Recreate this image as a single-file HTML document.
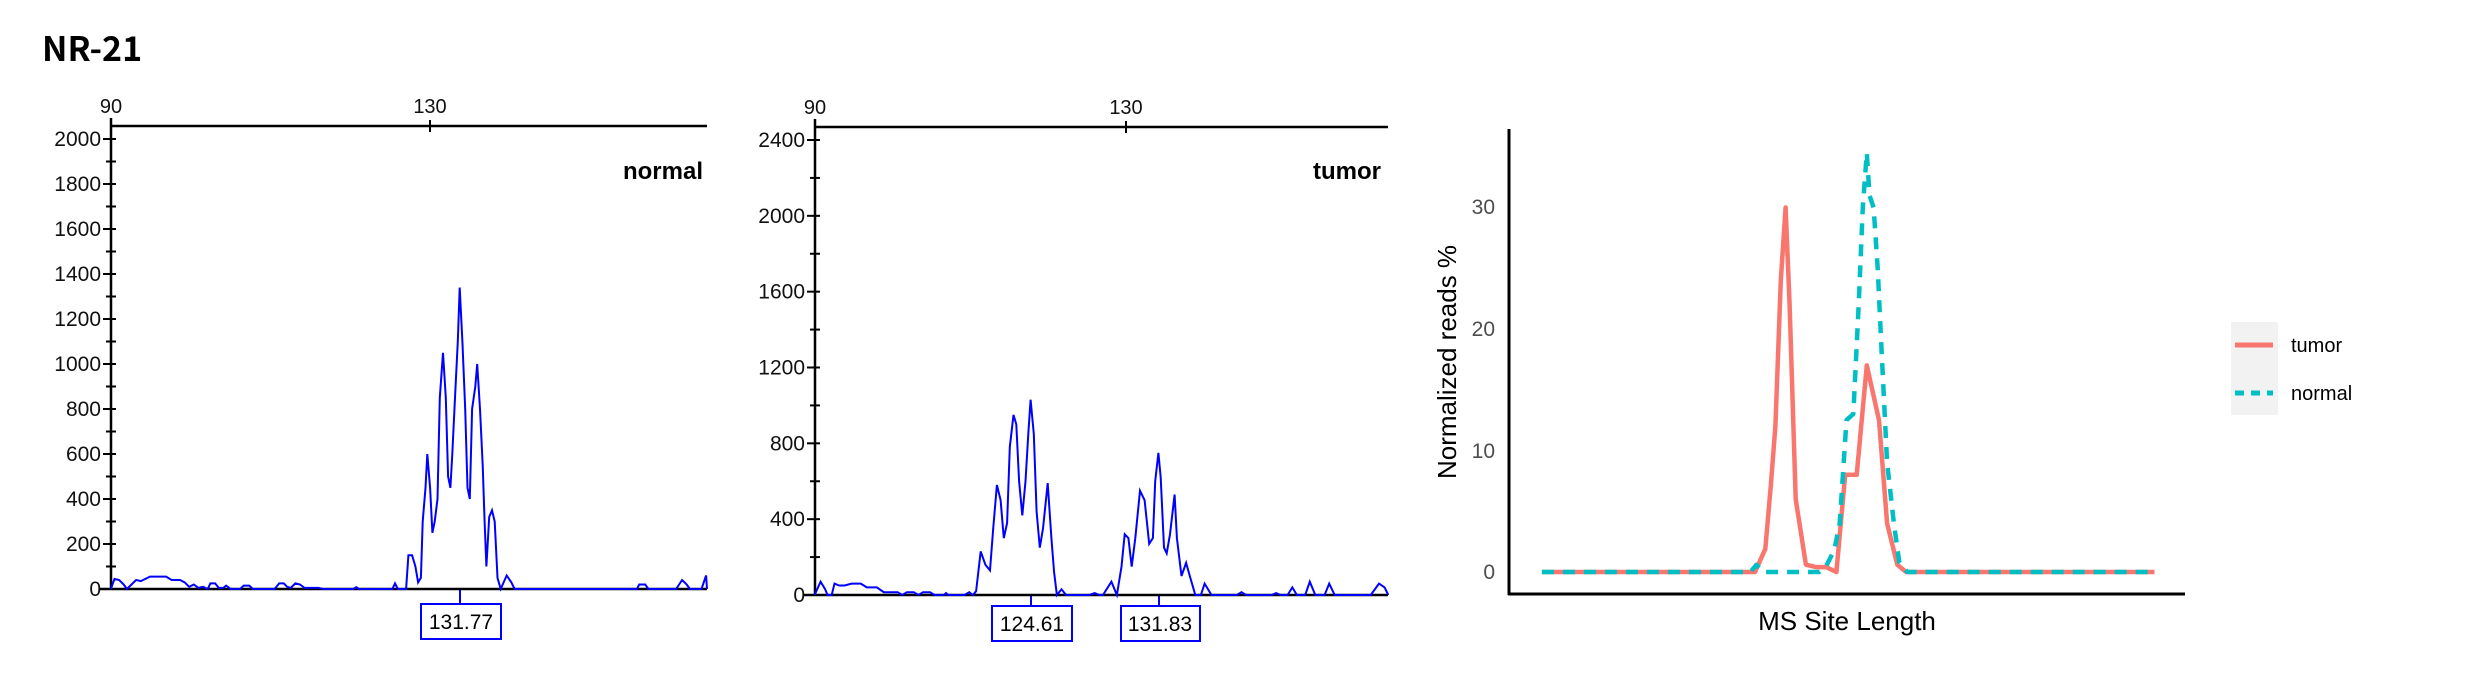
<!DOCTYPE html>
<html><head><meta charset="utf-8"><style>
html,body{margin:0;padding:0;background:#fff;}
svg{display:block;}
</style></head><body>
<svg id="s" width="2476" height="675" viewBox="0 0 2476 675" xmlns="http://www.w3.org/2000/svg">
<text x="42" y="61" font-family="Noto Sans CJK SC, Liberation Sans, sans-serif" font-weight="bold" font-size="34">NR-21</text>
<text x="703" y="179" text-anchor="end" font-family="Liberation Sans, sans-serif" font-weight="bold" font-size="24">normal</text>
<text x="1381" y="179" text-anchor="end" font-family="Liberation Sans, sans-serif" font-weight="bold" font-size="24">tumor</text>
<g stroke="#0000ff" stroke-width="2" fill="#fff">
<rect x="421" y="604" width="80" height="35"/>
<rect x="992" y="606" width="80" height="35"/>
<rect x="1121" y="606" width="79" height="35"/>
</g>
<g stroke="#0000ff" stroke-width="2">
<line x1="460" y1="590" x2="460" y2="604"/>
<line x1="1031" y1="595" x2="1031" y2="606"/>
<line x1="1159" y1="595" x2="1159" y2="606"/>
</g>
<g font-family="Liberation Sans, sans-serif" font-size="21" text-anchor="middle" fill="#000">
<text x="461" y="629">131.77</text>
<text x="1032" y="631">124.61</text>
<text x="1160" y="631">131.83</text>
</g>
<g stroke="#000" stroke-width="3">
<line x1="1509" y1="129" x2="1509" y2="595"/>
<line x1="1508" y1="594" x2="2185" y2="594"/>
</g>
<g font-family="Liberation Sans, sans-serif" font-size="21" fill="#4d4d4d" text-anchor="end">
<text x="1495" y="579">0</text>
<text x="1495" y="458">10</text>
<text x="1495" y="336">20</text>
<text x="1495" y="214">30</text>
</g>
<text x="1847" y="630" text-anchor="middle" font-family="Liberation Sans, sans-serif" font-size="26" fill="#000">MS Site Length</text>
<text transform="translate(1456,362) rotate(-90)" text-anchor="middle" font-family="Liberation Sans, sans-serif" font-size="26" fill="#000">Normalized reads %</text>
<rect x="2231" y="322" width="47" height="93" fill="#f2f2f2"/>
<line x1="2235" y1="345" x2="2273" y2="345" stroke="#F8766D" stroke-width="5"/>
<line x1="2235" y1="393" x2="2273" y2="393" stroke="#00BFC4" stroke-width="5" stroke-dasharray="9,7"/>
<g font-family="Liberation Sans, sans-serif" font-size="20" fill="#000">
<text x="2291" y="352">tumor</text>
<text x="2291" y="400">normal</text>
</g>
</svg>
<script>
var NS="http://www.w3.org/2000/svg",s=document.getElementById('s');
function el(t,a){var e=document.createElementNS(NS,t);for(var k in a)e.setAttribute(k,a[k]);s.appendChild(e);return e;}
function txt(x,y,str,anchor,size){var e=el('text',{x:x,y:y,'text-anchor':anchor||'end','font-family':'Liberation Sans, sans-serif','font-size':size||21,'fill':'#111'});e.textContent=str;}
function panel(ax,ar,top,base,ymax,yStep,minor,x130){
 el('line',{x1:ax,y1:top,x2:ar,y2:top,stroke:'#000','stroke-width':2.5});
 el('line',{x1:ax,y1:top-8,x2:ax,y2:base,stroke:'#000','stroke-width':2.5});
 el('line',{x1:ax-12,y1:base,x2:ar,y2:base,stroke:'#000','stroke-width':2.5});
 el('line',{x1:x130,y1:top-6,x2:x130,y2:top+6,stroke:'#000','stroke-width':2});
 txt(ax,top-13,'90','middle',20);txt(x130,top-13,'130','middle',20);
 var y2k=top+13;
 for(var v=0;v<=ymax;v+=minor){var y=base-(base-y2k)*v/ymax;
  var lab=(v%yStep===0);
  el('line',{x1:ax-(lab?8:5),y1:y,x2:ax+5,y2:y,stroke:'#000','stroke-width':2});
  if(lab)txt(ax-10,y+7,String(v),'end',21);}
 return function(val){return base-(base-y2k)*val/ymax;};
}
var f1=panel(111,707,126,589,2000,200,100,430);
var f2=panel(815,1388,127,595,2400,400,200,1126);
function trace(pts,ox,fy){var d='';for(var i=0;i<pts.length;i+=2){var x=ox+pts[i]*0.4615,y=fy(pts[i+1]);d+=(i?'L':'M')+x.toFixed(1)+','+y.toFixed(1);}
 el('path',{d:d,stroke:'#0000ff','stroke-width':2,fill:'none'});}
trace([240,0,248,45,258,40,268,20,275,0,285,20,295,40,305,35,315,45,325,55,360,55,372,40,390,40,400,30,410,10,420,20,430,5,440,10,450,0,456,25,466,25,474,5,484,5,490,15,500,0,520,0,528,15,540,15,548,0,595,0,605,25,615,25,622,10,630,5,640,25,650,20,660,5,690,5,700,0,765,0,772,8,778,0,850,0,856,25,862,0,880,0,885,150,893,150,900,100,906,30,912,50,916,300,922,450,926,600,932,450,937,250,942,300,948,400,953,850,960,1050,966,850,971,500,976,450,980,600,986,850,992,1100,996,1340,1002,1100,1008,800,1013,450,1018,400,1023,800,1030,900,1034,1000,1040,800,1046,550,1050,300,1054,100,1060,320,1066,350,1072,300,1078,50,1085,0,1098,60,1108,30,1115,0,1140,0,1270,0,1380,0,1385,20,1398,20,1405,0,1465,0,1478,40,1488,20,1495,0,1520,0,1530,60,1532,0],0,f1);
trace([205,0,218,70,228,30,233,0,242,0,248,60,258,50,270,50,285,60,305,60,318,40,340,40,355,15,385,15,395,0,405,15,420,15,430,0,440,15,455,15,465,0,485,0,490,10,495,0,530,0,540,15,548,0,555,20,565,230,575,160,585,130,592,350,600,580,608,500,615,300,622,380,628,780,636,950,642,900,648,600,655,420,662,600,668,850,673,1030,680,850,686,440,693,250,700,350,710,590,718,300,724,120,730,0,740,30,750,0,800,0,812,10,822,0,830,0,848,70,860,0,870,150,877,320,885,300,892,150,900,300,910,550,920,500,930,270,938,300,943,600,950,750,955,620,962,250,968,220,975,320,985,530,990,300,1000,100,1010,170,1018,100,1030,0,1042,0,1050,60,1065,0,1120,0,1130,15,1140,0,1195,0,1205,10,1215,0,1230,0,1240,40,1250,0,1268,0,1278,70,1290,0,1310,0,1320,60,1332,0,1360,0,1372,0,1410,0,1428,60,1440,40,1448,0],720,f2);
function p3(pts,col,dash){var d='';for(var i=0;i<pts.length;i+=2){var x=1420+pts[i]*0.677,y=572-pts[i+1]*12.15;d+=(i?'L':'M')+x.toFixed(1)+','+y.toFixed(1);}
 var a={d:d,stroke:col,'stroke-width':4.5,fill:'none','stroke-linejoin':'round'};if(dash)a['stroke-dasharray']=dash;el('path',a);}
p3([180,0,495,0,510,1.9,518,7,525,12,533,24,540,30,546,22,555,6,570,0.6,585,0.4,600,0.4,615,0,628,8,645,8,660,17,678,12.5,690,4,705,0.6,718,0,1085,0],'#F8766D');
p3([180,0,488,0,497,0.6,506,0,590,0,600,0.5,612,1.8,620,4,630,12.5,640,13,648,22,654,30,660,34.5,664,31,670,30,676,25,682,18,690,9,700,4,708,0.8,720,0,1085,0],'#00BFC4','12,9');
</script>
</body></html>
